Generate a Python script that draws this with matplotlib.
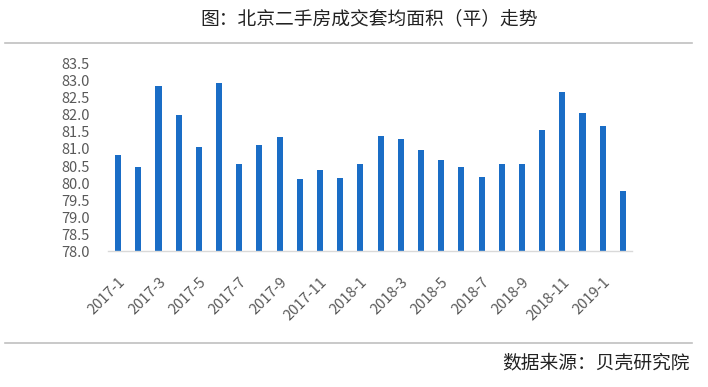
import matplotlib
matplotlib.use("Agg")
import matplotlib.pyplot as plt
from matplotlib.lines import Line2D

plt.rcParams['font.family'] = ['Noto Sans CJK SC', 'DejaVu Sans']

months = ["2017-1", "2017-2", "2017-3", "2017-4", "2017-5", "2017-6", "2017-7", "2017-8",
          "2017-9", "2017-10", "2017-11", "2017-12", "2018-1", "2018-2", "2018-3", "2018-4",
          "2018-5", "2018-6", "2018-7", "2018-8", "2018-9", "2018-10", "2018-11", "2018-12",
          "2019-1", "2019-2"]
values = [80.82, 80.47, 82.85, 82.0, 81.06, 82.92, 80.56, 81.12,
          81.35, 80.12, 80.38, 80.15, 80.56, 81.38, 81.29, 80.97,
          80.68, 80.47, 80.18, 80.56, 80.56, 81.56, 82.67, 82.05,
          81.67, 79.77]
yticks = [78.0, 78.5, 79.0, 79.5, 80.0, 80.5, 81.0, 81.5, 82.0, 82.5, 83.0, 83.5]
title = "图：北京二手房成交套均面积（平）走势"
source = "数据来源：贝壳研究院"

W, H = 708, 387
fig = plt.figure(figsize=(W / 100, H / 100), dpi=100)
ax = fig.add_axes([108 / W, 1 - 251.3 / H, (632 - 108) / W, (251.3 - 63.7) / H])

x = list(range(len(months)))
ax.bar(x, [v - 78.0 for v in values], bottom=78.0, width=0.3, color="#1a6dc6")
ax.set_ylim(78.0, 83.5)
ax.set_xlim(-0.5, 25.45)
ax.set_yticks(yticks)
ax.set_yticklabels([f"{t:.1f}" for t in yticks], color="#595959", fontsize=10.5)
ax.set_xticks(x[::2])
ax.set_xticklabels(months[::2], rotation=45, ha="right", va="top",
                   rotation_mode="anchor", color="#595959", fontsize=10.5)
ax.tick_params(axis="x", length=0, pad=17)
ax.tick_params(axis="y", length=0, pad=13)
for s in ["top", "right", "left"]:
    ax.spines[s].set_visible(False)
ax.spines["bottom"].set_color("#d9d9d9")
ax.spines["bottom"].set_linewidth(1.0)

fig.text(369 / W, 1 - 19 / H, title, ha="center", va="center", fontsize=13.5, color="#222222")
fig.text(690 / W, 1 - 363 / H, source, ha="right", va="center", fontsize=13.5, color="#222222")

fig.add_artist(Line2D([5 / W, 692 / W], [1 - 43 / H, 1 - 43 / H], color="#c0c0c0", lw=1.2,
                      transform=fig.transFigure))
fig.add_artist(Line2D([5 / W, 692 / W], [1 - 343 / H, 1 - 343 / H], color="#c0c0c0", lw=1.2,
                      transform=fig.transFigure))

fig.savefig("out.png", dpi=100)
